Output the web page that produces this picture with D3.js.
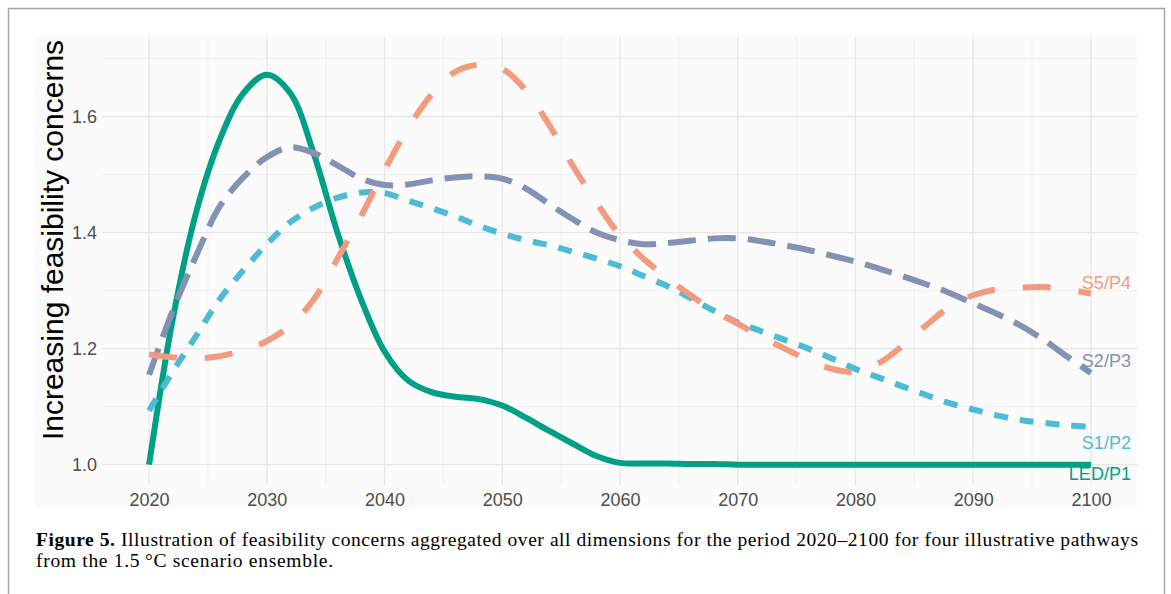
<!DOCTYPE html>
<html>
<head>
<meta charset="utf-8">
<script src="https://cdn.jsdelivr.net/npm/d3@7"></script>
<style>
  body { margin: 0; background: #fff; }
  svg { display: block; }
</style>
</head>
<body>
<svg width="1171" height="594"></svg>
<script>
const years = d3.range(2020, 2101, 2);

const ledP1 = [1.000, 1.250, 1.435, 1.560, 1.640, 1.672, 1.640, 1.535, 1.400, 1.285,
    1.195, 1.145, 1.125, 1.117, 1.113, 1.102, 1.081, 1.058, 1.036, 1.015,
    1.003, 1.002, 1.002, 1.001, 1.001, 1.000, 1.000, 1.000, 1.000, 1.000,
    1.000, 1.000, 1.000, 1.000, 1.000, 1.000, 1.000, 1.000, 1.000, 1.000, 1.000];

const s1P2 = [1.093, 1.160, 1.222, 1.285, 1.335, 1.380, 1.418, 1.443, 1.460, 1.469,
    1.468, 1.455, 1.442, 1.428, 1.412, 1.398, 1.387, 1.378, 1.367, 1.355,
    1.342, 1.325, 1.308, 1.287, 1.265, 1.245, 1.230, 1.215, 1.200, 1.183,
    1.165, 1.150, 1.135, 1.120, 1.106, 1.095, 1.085, 1.077, 1.072, 1.068, 1.065];

const s2P3 = [1.155, 1.265, 1.360, 1.445, 1.495, 1.530, 1.547, 1.537, 1.516, 1.493,
    1.482, 1.483, 1.490, 1.495, 1.497, 1.493, 1.476, 1.449, 1.423, 1.400,
    1.387, 1.380, 1.382, 1.386, 1.390, 1.390, 1.385, 1.378, 1.370, 1.360,
    1.350, 1.338, 1.325, 1.311, 1.296, 1.278, 1.260, 1.240, 1.215, 1.186, 1.158];

const s5P4 = [1.190, 1.185, 1.183, 1.187, 1.197, 1.213, 1.240, 1.285, 1.355, 1.428,
    1.508, 1.580, 1.638, 1.677, 1.689, 1.682, 1.645, 1.585, 1.515, 1.452,
    1.395, 1.355, 1.322, 1.292, 1.265, 1.243, 1.220, 1.200, 1.180, 1.165,
    1.160, 1.175, 1.205, 1.240, 1.272, 1.292, 1.302, 1.305, 1.306, 1.302, 1.295];

const seriesNames = ["LED/P1", "S1/P2", "S2/P3", "S5/P4"];
const seriesValues = [ledP1, s1P2, s2P3, s5P4];
const xTicks = d3.range(2020, 2101, 10);
const yTicks = [1.0, 1.2, 1.4, 1.6];

// styling, kept apart from the values
const colors = ["#00A087", "#4DBBD5", "#8491B4", "#F39B7F"];
const dashes = [null, "14,12", "28,12", "28,28"];
const labelDy = [9, 16, -12, -11];

const svg = d3.select("svg");
const pLeft = 102, pRight = 1138, pTop = 37, pBottom = 485;

const x = d3.scaleLinear().domain([2016, 2104]).range([pLeft, pRight]);
const y = d3.scaleLinear().domain([0.9649, 1.7371]).range([pBottom, pTop]);

// frame round the figure
svg.append("rect")
    .attr("x", 8.5).attr("y", 8.5)
    .attr("width", 1156).attr("height", 700)
    .attr("fill", "none")
    .attr("stroke", "#a6a6a6")
    .attr("stroke-width", 1.5);

svg.append("rect")
    .attr("x", 35).attr("y", 35)
    .attr("width", pRight - 35).attr("height", 508 - 35)
    .attr("fill", "#fbfbfb");

// grid
const grid = svg.append("g");
grid.selectAll(".ymin")
    .data(d3.range(1.1, 1.75, 0.2))
    .enter().append("line")
    .attr("x1", pLeft).attr("x2", pRight)
    .attr("y1", d => y(d)).attr("y2", d => y(d))
    .attr("stroke", "#efefef").attr("stroke-width", 0.9);
grid.selectAll(".xmin")
    .data(d3.range(2025, 2100, 10))
    .enter().append("line")
    .attr("y1", pTop).attr("y2", pBottom)
    .attr("x1", d => x(d)).attr("x2", d => x(d))
    .attr("stroke", "#efefef").attr("stroke-width", 0.9);
grid.selectAll(".ymaj")
    .data(yTicks)
    .enter().append("line")
    .attr("x1", pLeft).attr("x2", pRight)
    .attr("y1", d => y(d)).attr("y2", d => y(d))
    .attr("stroke", "#e6e6e6").attr("stroke-width", 1.3);
grid.selectAll(".xmaj")
    .data(xTicks)
    .enter().append("line")
    .attr("y1", pTop).attr("y2", pBottom)
    .attr("x1", d => x(d)).attr("x2", d => x(d))
    .attr("stroke", "#e6e6e6").attr("stroke-width", 1.3);

// axes
const xAxis = svg.append("g")
    .attr("transform", `translate(0,${pBottom})`)
    .call(d3.axisBottom(x).tickValues(xTicks).tickFormat(d3.format("d")).tickSize(0).tickPadding(8));
const yAxis = svg.append("g")
    .attr("transform", `translate(${pLeft},0)`)
    .call(d3.axisLeft(y).tickValues(yTicks).tickFormat(d3.format(".1f")).tickSize(0).tickPadding(5));
[xAxis, yAxis].forEach(a => {
    a.select(".domain").remove();
    a.selectAll("text")
        .attr("fill", "#4d4d4d")
        .style("font-family", "'Liberation Sans', Arial, sans-serif")
        .style("font-size", "18px");
});

svg.append("text")
    .attr("transform", "translate(63,240) rotate(-90)")
    .attr("text-anchor", "middle")
    .style("font-family", "'Liberation Sans', Arial, sans-serif")
    .style("font-size", "30px")
    .attr("fill", "#000")
    .text("Increasing feasibility concerns");

// lines
const line = d3.line()
    .x(d => x(d[0]))
    .y(d => y(d[1]))
    .curve(d3.curveCatmullRom);

seriesValues.forEach((vals, i) => {
    const pts = years.map((yr, j) => [yr, vals[j]]);
    svg.append("path")
        .datum(pts)
        .attr("d", line)
        .attr("fill", "none")
        .attr("stroke", colors[i])
        .attr("stroke-width", 6)
        .attr("stroke-linecap", "butt")
        .attr("stroke-dasharray", dashes[i]);
});

// end labels
seriesNames.forEach((name, i) => {
    const last = seriesValues[i][seriesValues[i].length - 1];
    svg.append("text")
        .attr("x", x(2100) + 40)
        .attr("y", y(last) + labelDy[i])
        .attr("dy", "0.35em")
        .attr("text-anchor", "end")
        .attr("fill", colors[i])
        .style("font-family", "'Liberation Sans', Arial, sans-serif")
        .style("font-size", "18px")
        .text(name);
});

// caption
const cap = svg.append("g")
    .style("font-family", "'Liberation Serif', 'Times New Roman', serif")
    .style("font-size", "19.5px")
    .attr("fill", "#000");
const line1 = cap.append("text").attr("x", 36).attr("y", 546)
    .attr("textLength", 1102).attr("lengthAdjust", "spacing");
line1.append("tspan").attr("font-weight", "bold").text("Figure 5.");
line1.append("tspan").text(" Illustration of feasibility concerns aggregated over all dimensions for the period 2020\u20132100 for four illustrative pathways");
cap.append("text").attr("x", 36).attr("y", 567)
    .attr("textLength", 297).attr("lengthAdjust", "spacing")
    .text("from the 1.5\u2009\u00b0C scenario ensemble.");
</script>
</body>
</html>
